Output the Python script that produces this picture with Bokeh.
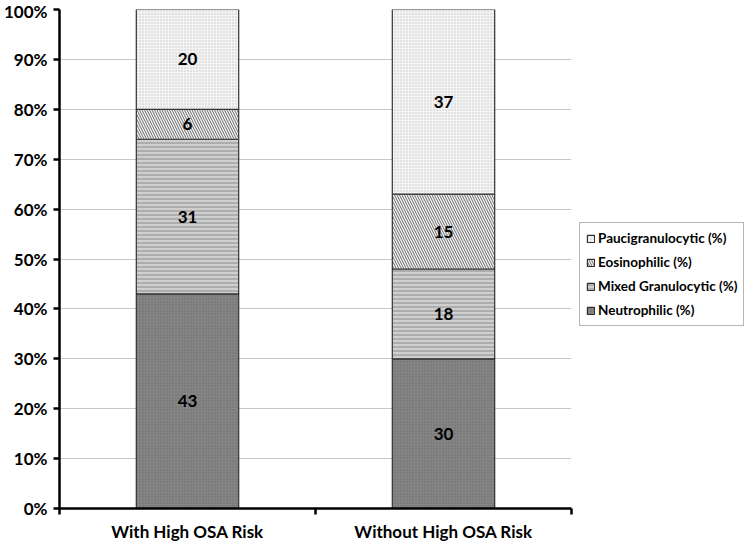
from bokeh.plotting import figure
from bokeh.models import (Legend, LegendItem, FixedTicker, ColumnDataSource,
                          Range1d, CustomJSTickFormatter)
from bokeh.embed import file_html
from bokeh.resources import INLINE
from bokeh.core.properties import value

# ---- data ----
groups = ["With High OSA Risk", "Without High OSA Risk"]
series = ["Neutrophilic (%)", "Mixed Granulocytic (%)", "Eosinophilic (%)", "Paucigranulocytic (%)"]
neutrophilic = [43, 30]
mixed = [31, 18]
eosinophilic = [6, 15]
pauci = [20, 37]
y_ticks = [0, 10, 20, 30, 40, 50, 60, 70, 80, 90, 100]

values = [neutrophilic, mixed, eosinophilic, pauci]

styles = [
    dict(fill_color="#858585", hatch_pattern="dot", hatch_color="#6a6a6a", hatch_scale=3, hatch_weight=1),
    dict(fill_color="#cfcfcf", hatch_pattern="horizontal_line", hatch_color="#a2a2a2", hatch_scale=4, hatch_weight=1.5),
    dict(fill_color="#f4f4f4", hatch_pattern="left_diagonal_line", hatch_color="#6a6a6a", hatch_scale=5, hatch_weight=1),
    dict(fill_color="#f4f4f4", hatch_pattern="dot", hatch_color="#c4c4c4", hatch_scale=3, hatch_weight=1),
]

FONT = "Lato"

p = figure(output_backend="svg", toolbar_location=None,
           frame_width=512, frame_height=499,
           x_range=Range1d(0, len(groups)), y_range=Range1d(0, 100),
           min_border_left=52, min_border_top=9, min_border_right=0)
p.outline_line_color = None
p.xgrid.grid_line_color = None
p.ygrid.grid_line_color = "#c8c8c8"
p.ygrid.grid_line_width = 1

xs = [i + 0.5 for i in range(len(groups))]
bottom = [0] * len(groups)
renderers = []
for name, vals, st in zip(series, values, styles):
    top = [b + v for b, v in zip(bottom, vals)]
    src = ColumnDataSource(dict(x=xs, bottom=bottom, top=top, v=[str(v) for v in vals],
                                mid=[(b + t) / 2 for b, t in zip(bottom, top)]))
    r = p.vbar(x="x", bottom="bottom", top="top", width=0.4, source=src,
               line_color="#303030", line_width=1.2, **st)
    p.text(x="x", y="mid", text="v", source=src, text_align="center", text_baseline="middle",
           text_font=value(FONT), text_font_style="bold", text_font_size="17px", text_color="#000000")
    renderers.append((name, r))
    bottom = top

# y axis
ya = p.yaxis[0]
ya.ticker = FixedTicker(ticks=y_ticks)
ya.formatter = CustomJSTickFormatter(code="return tick + '%';")
ya.axis_line_width = 2.5
ya.axis_line_color = "black"
ya.major_tick_line_width = 2.5
ya.major_tick_line_color = "black"
ya.major_tick_out = 6
ya.major_tick_in = 0
ya.minor_tick_line_color = None
ya.major_label_text_font = FONT
ya.major_label_text_font_style = "bold"
ya.major_label_text_font_size = "17px"
ya.major_label_text_color = "#000000"
ya.major_label_standoff = 6

# x axis
xa = p.xaxis[0]
xa.ticker = FixedTicker(ticks=xs, minor_ticks=list(range(len(groups) + 1)))
xa.major_label_overrides = {x: g for x, g in zip(xs, groups)}
xa.axis_line_width = 2.5
xa.axis_line_color = "black"
xa.major_tick_line_color = None
xa.minor_tick_line_color = "black"
xa.minor_tick_line_width = 2.5
xa.minor_tick_out = 6
xa.minor_tick_in = 0
xa.major_tick_out = 6
xa.major_label_text_font = FONT
xa.major_label_text_font_style = "bold"
xa.major_label_text_font_size = "17px"
xa.major_label_text_color = "#000000"
xa.major_label_standoff = 6

items = [LegendItem(label=name, renderers=[r]) for name, r in reversed(renderers)]
legend = Legend(items=items, location=(8, 182))
legend.label_text_font = FONT
legend.label_text_font_style = "bold"
legend.label_text_font_size = "13.5px"
legend.label_text_color = "#000000"
legend.glyph_width = 9
legend.glyph_height = 9
legend.label_standoff = 3
legend.spacing = 6
legend.padding = 6
legend.margin = 0
legend.border_line_color = "#6e6e6e"
legend.border_line_width = 1
legend.label_height = 18
p.add_layout(legend, "right")

open("out.html", "w").write(file_html(p, INLINE))
